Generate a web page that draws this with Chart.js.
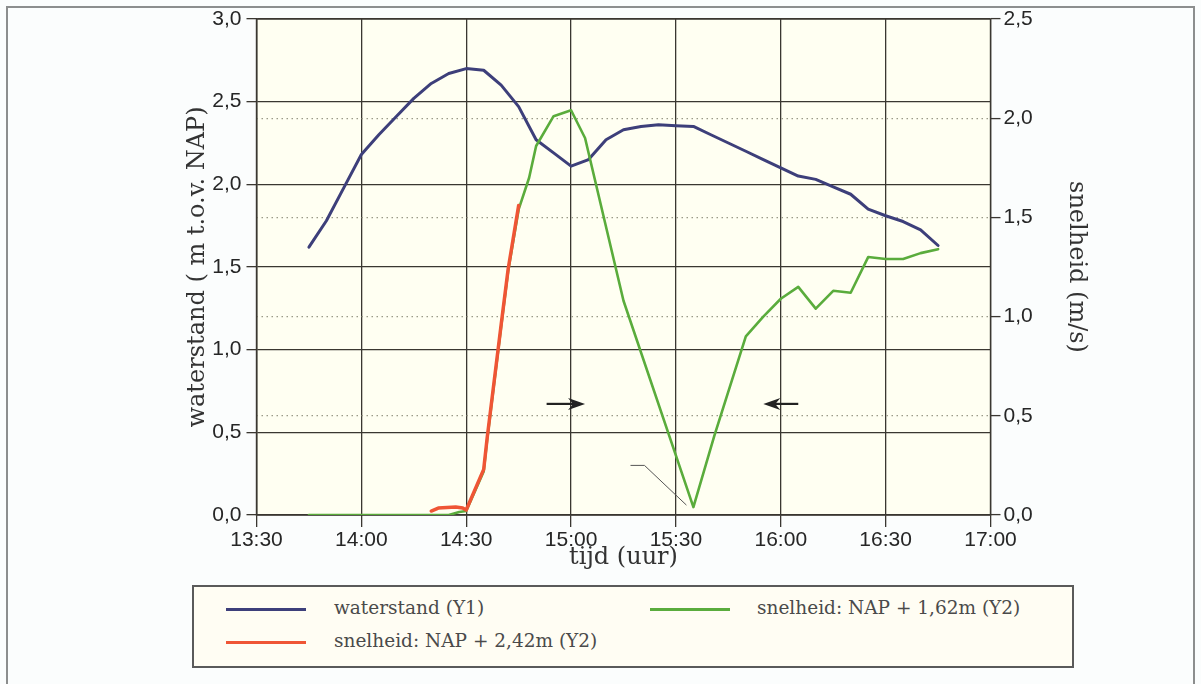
<!DOCTYPE html>
<html><head><meta charset="utf-8">
<script src="https://cdn.jsdelivr.net/npm/chart.js@4"></script>
<style>
html,body{margin:0;padding:0;background:#fbfdfd;}
#wrap{position:relative;width:1201px;height:684px;overflow:hidden;}
#frame{position:absolute;left:6px;top:6px;width:1185px;height:720px;border:2px solid #8c8e8e;}
canvas{position:absolute;left:0;top:0;}
#legend{position:absolute;left:192px;top:585px;width:878px;height:79px;border:2px solid #5a5a5a;background:#fffdf3;font-family:"DejaVu Serif";font-size:18.5px;color:#4a4a4a;}
.sw{position:absolute;height:3px;width:80px;}
.lt{position:absolute;white-space:nowrap;line-height:22px;}
</style></head>
<body>
<div id="wrap">
<div id="frame"></div>
<canvas id="c" width="1201" height="684"></canvas>
<div id="legend">
  <div class="sw" style="left:32px;top:21px;background:#3d3f7a"></div>
  <div class="lt" style="left:140px;top:10px">waterstand (Y1)</div>
  <div class="sw" style="left:32px;top:54px;background:#ef5535"></div>
  <div class="lt" style="left:140px;top:43px">snelheid: NAP + 2,42m (Y2)</div>
  <div class="sw" style="left:456px;top:21px;background:#5aac3c"></div>
  <div class="lt" style="left:563px;top:10px">snelheid: NAP + 1,62m (Y2)</div>
</div>
</div>
<script>
// ---- data ----
const xTickLabels = ["13:30","14:00","14:30","15:00","15:30","16:00","16:30","17:00"];
const yTickLabels = ["0,0","0,5","1,0","1,5","2,0","2,5","3,0"];
const y2TickLabels = ["0,0","0,5","1,0","1,5","2,0","2,5"];

const waterTimes = ["13:45","13:50","13:55","14:00","14:05","14:10","14:15","14:20","14:25","14:30","14:35","14:40","14:45","14:50","14:55","15:00","15:05","15:10","15:15","15:20","15:25","15:30","15:35","15:40","15:45","15:50","15:55","16:00","16:05","16:10","16:15","16:20","16:25","16:30","16:35","16:40","16:45"];
const waterLevel = [1.62,1.78,1.98,2.18,2.30,2.41,2.52,2.61,2.67,2.70,2.69,2.60,2.47,2.27,2.19,2.11,2.15,2.27,2.33,2.35,2.36,2.355,2.35,2.30,2.25,2.20,2.15,2.10,2.05,2.03,1.985,1.94,1.85,1.81,1.775,1.725,1.63];

const greenTimes = ["13:45","14:25","14:28","14:30","14:35","14:36","14:40","14:42","14:45","14:48","14:50","14:55","15:00","15:04","15:15","15:35","15:41","15:50","15:55","16:00","16:05","16:10","16:15","16:20","16:25","16:30","16:35","16:40","16:45"];
const greenSpeed = [0.00,0.00,0.015,0.02,0.22,0.38,0.95,1.23,1.54,1.70,1.86,2.01,2.04,1.90,1.08,0.04,0.40,0.90,1.00,1.09,1.15,1.04,1.13,1.12,1.30,1.29,1.29,1.32,1.34];

const redTimes = ["14:20","14:22","14:27","14:29","14:30","14:35","14:36","14:40","14:42","14:45"];
const redSpeed = [0.02,0.035,0.04,0.035,0.025,0.23,0.39,0.96,1.24,1.56];

// annotations (time, speed on Y2)
const arrowRight = {from:"14:53", to:"15:04", y:0.56};
const arrowLeft = {from:"16:05", to:"15:55", y:0.56};
const leaderTimes = ["15:17","15:21","15:33"];
const leaderSpeed = [0.25,0.25,0.05];

// ---- helpers ----
const parseT = s => { const p = s.split(':').map(Number); return p[0]*60 + p[1]; };
const pts = (t, v) => t.map((s,i) => ({x: parseT(s), y: v[i]}));

const tickFont = {family: "'Liberation Sans', Arial, sans-serif", size: 21};
const titleFont = {family: "'DejaVu Serif', serif", size: 24};
const gridDark = '#3a3731';
const tickColor = '#262626';

const bgPlugin = {
  id: 'bg',
  beforeDraw(c) {
    const {ctx, chartArea: a} = c;
    ctx.save();
    ctx.fillStyle = '#fffff2';
    ctx.fillRect(a.left, a.top, a.right - a.left, a.bottom - a.top);
    ctx.restore();
  },
  beforeDatasetsDraw(c) {
    const {ctx, chartArea: a} = c;
    ctx.save();
    ctx.strokeStyle = gridDark; ctx.lineWidth = 1.4;
    ctx.strokeRect(a.left, a.top, a.right - a.left, a.bottom - a.top);
    ctx.restore();
  }
};

const annoPlugin = {
  id: 'anno',
  afterDatasetsDraw(c) {
    const {ctx} = c;
    const xs = c.scales.x, ys = c.scales.y2;
    function arrow(a) {
      const x0 = xs.getPixelForValue(parseT(a.from));
      const x1 = xs.getPixelForValue(parseT(a.to));
      const y = ys.getPixelForValue(a.y);
      const dir = Math.sign(x1 - x0);
      ctx.save();
      ctx.strokeStyle = '#222'; ctx.fillStyle = '#222';
      ctx.lineWidth = 2.2;
      ctx.beginPath(); ctx.moveTo(x0, y); ctx.lineTo(x1 - dir*10, y); ctx.stroke();
      ctx.beginPath();
      ctx.moveTo(x1, y);
      ctx.lineTo(x1 - dir*17, y - 6);
      ctx.lineTo(x1 - dir*12, y);
      ctx.lineTo(x1 - dir*17, y + 6);
      ctx.closePath(); ctx.fill();
      ctx.restore();
    }
    arrow(arrowRight); arrow(arrowLeft);
    ctx.save();
    ctx.strokeStyle = '#555'; ctx.lineWidth = 1;
    ctx.beginPath();
    leaderTimes.forEach((t,i) => {
      const px = xs.getPixelForValue(parseT(t)), py = ys.getPixelForValue(leaderSpeed[i]);
      if (i === 0) ctx.moveTo(px, py); else ctx.lineTo(px, py);
    });
    ctx.stroke();
    ctx.restore();
  }
};

new Chart(document.getElementById('c'), {
  type: 'line',
  data: {
    datasets: [
      {label: 'snelheid: NAP + 2,42m (Y2)', data: pts(redTimes, redSpeed), yAxisID: 'y2', borderColor: '#ef5535', borderWidth: 3.5, pointRadius: 0, order: 0},
      {label: 'snelheid: NAP + 1,62m (Y2)', data: pts(greenTimes, greenSpeed), yAxisID: 'y2', borderColor: '#5aac3c', borderWidth: 2.6, pointRadius: 0, order: 1},
      {label: 'waterstand (Y1)', data: pts(waterTimes, waterLevel), yAxisID: 'y', borderColor: '#3d3f7a', borderWidth: 3, pointRadius: 0, order: 2}
    ]
  },
  options: {
    responsive: false,
    animation: false,
    devicePixelRatio: 1,
    layout: {padding: {left: 183, right: 110, top: 19, bottom: 112}},
    plugins: {legend: {display: false}, tooltip: {enabled: false}},
    elements: {line: {tension: 0, borderJoinStyle: 'round', borderCapStyle: 'round'}},
    scales: {
      x: {
        type: 'linear',
        min: parseT(xTickLabels[0]), max: parseT(xTickLabels[xTickLabels.length-1]),
        afterBuildTicks: s => { s.ticks = xTickLabels.map(t => ({value: parseT(t)})); },
        ticks: {callback: (v, i) => xTickLabels[i], font: tickFont, color: tickColor, padding: 1, maxRotation: 0, autoSkip: false},
        grid: {color: gridDark, lineWidth: 1.3, tickLength: 12, tickColor: gridDark},
        border: {display: true, color: gridDark, width: 1.3},
        title: {display: true, text: 'tijd (uur)', font: titleFont, color: '#333', padding: {top: 0, bottom: 0}},
        afterFit: s => { s.height = 57; }
      },
      y: {
        position: 'left',
        min: 0, max: 3,
        afterBuildTicks: s => { s.ticks = yTickLabels.map(t => ({value: parseFloat(t.replace(',', '.'))})); },
        ticks: {callback: (v, i) => yTickLabels[i], font: tickFont, color: tickColor, padding: 5, autoSkip: false},
        grid: {color: gridDark, lineWidth: 1.3, tickLength: 10, tickColor: gridDark},
        border: {display: true, color: gridDark, width: 1.3},
        title: {display: true, text: 'waterstand ( m t.o.v. NAP)', font: titleFont, color: '#333', padding: {top: 0, bottom: 0}},
        afterFit: s => { s.width = 73.5; }
      },
      y2: {
        position: 'right',
        min: 0, max: 2.5,
        afterBuildTicks: s => { s.ticks = y2TickLabels.map(t => ({value: parseFloat(t.replace(',', '.'))})); },
        ticks: {callback: (v, i) => y2TickLabels[i], font: tickFont, color: tickColor, padding: 3, autoSkip: false},
        grid: {
          color: ctx => (ctx.index === 0 || ctx.index === y2TickLabels.length - 1) ? 'rgba(0,0,0,0)' : '#9a9a88',
          lineWidth: 1.2, tickLength: 10, tickWidth: 1.3, tickBorderDash: [],
          tickColor: gridDark
        },
        border: {display: false, dash: [1.5, 3.5]},
        title: {display: true, text: 'snelheid (m/s)', font: titleFont, color: '#333', padding: {top: 0, bottom: 0}},
        afterFit: s => { s.width = 100.5; }
      }
    }
  },
  plugins: [bgPlugin, annoPlugin]
});
</script>
</body></html>
